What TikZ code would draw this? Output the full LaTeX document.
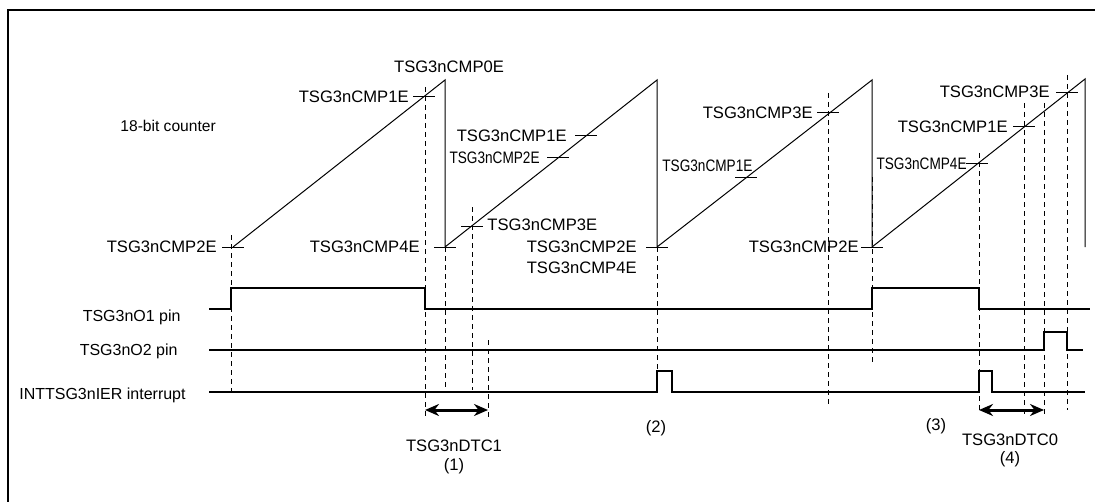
\documentclass[tikz,border=0pt]{standalone}
\usepackage{fontspec}
\setmainfont{Liberation Sans}
\usepackage{tikz}
\usetikzlibrary{arrows.meta,positioning,calc}

\newcommand{\narrow}[1]{\scalebox{0.82}[1]{#1}}

\begin{document}
\begin{tikzpicture}[x=0.5pt,y=-0.5pt,
    lbl/.style={font=\fontsize{8.3}{10}\selectfont, inner sep=0pt},
    ramp/.style={line width=0.5pt},
    sig/.style={line width=0.65pt},
    guide/.style={line width=0.5pt, dash pattern=on 2.5pt off 2pt},
    span/.style={line width=1.5pt, {Stealth[length=7pt,width=6pt]}-{Stealth[length=7pt,width=6pt]}}]
    \useasboundingbox (0,0) rectangle (1095,502);

    % frame
    \draw[line width=1pt] (7.5,502) -- (7.5,10) -- (1095,10);

    % 18-bit counter
    \node[lbl, font=\fontsize{7.8}{10}\selectfont, anchor=west] (cnt) at (120,126) {18-bit counter};
    \draw[ramp] (233,247) -- (445,80) -- (445,247) -- (657,80) -- (657,247)
        -- (872,80) -- (872,247) -- (1085,79) -- (1085,247);

    % compare ticks
    \foreach \x/\y in {233/247, 424/97, 445/247, 472/226, 558/158, 586/136,
                       657/247, 746/178, 828/113, 872/247, 977/164, 1024/127, 1067/93}
        \draw[ramp] (\x-11,\y) -- (\x+11,\y);

    % compare labels
    \node[lbl, anchor=east] (c2a) at (217,247) {TSG3nCMP2E};
    \node[lbl, anchor=east] (c1a) at (409,97) {TSG3nCMP1E};
    \node[lbl] (c0a) at (449,67) {TSG3nCMP0E};
    \node[lbl, anchor=east] (c4b) at (420,247) {TSG3nCMP4E};
    \node[lbl, anchor=west] (c3b) at (487,225) {TSG3nCMP3E};
    \node[lbl, anchor=east] (c1b) at (567,136) {TSG3nCMP1E};
    \node[lbl, anchor=east] (c2b) at (540,158) {\narrow{TSG3nCMP2E}};
    \node[lbl, anchor=east] (c2c) at (637,247) {TSG3nCMP2E};
    \node[lbl, anchor=east] (c4c) at (637,268) {TSG3nCMP4E};
    \node[lbl, anchor=west] (c1c) at (662,166) {\narrow{TSG3nCMP1E}};
    \node[lbl, anchor=east] (c3c) at (813,113) {TSG3nCMP3E};
    \node[lbl, anchor=east] (c2d) at (859,247) {TSG3nCMP2E};
    \node[lbl, anchor=east] (c4d) at (967,164) {\narrow{TSG3nCMP4E}};
    \node[lbl, anchor=east] (c1d) at (1008,127) {TSG3nCMP1E};
    \node[lbl, anchor=east] (c3d) at (1050,92) {TSG3nCMP3E};

    % dashed guides
    \foreach \x/\ya/\yb in {231/235/392, 425/87/418, 445/247/392, 472/207/390,
                            488/340/418, 657/247/392, 828/93/407, 872/177/363,
                            979/153/412, 1024/103/417, 1044/103/417, 1067/75/410}
        \draw[guide] (\x,\ya) -- (\x,\yb);

    % pins
    \node[lbl, font=\fontsize{8}{10}\selectfont, anchor=east] (o1) at (181,317) {TSG3nO1 pin};
    \node[lbl, font=\fontsize{8}{10}\selectfont, anchor=east] (o2) at (178,351) {TSG3nO2 pin};
    \node[lbl, font=\fontsize{8}{10}\selectfont, anchor=east] (irq) at (186,395) {INTTSG3nIER interrupt};
    \draw[sig] (209,309) -- (231,309) -- (231,288) -- (425,288) -- (425,309) -- (872,309)
        -- (872,288) -- (979,288) -- (979,309) -- (1090,309);
    \draw[sig] (209,350) -- (1044,350) -- (1044,332) -- (1067,332) -- (1067,350) -- (1083,350);
    \draw[sig] (209,392) -- (657,392) -- (657,371) -- (672,371) -- (672,392) -- (979,392)
        -- (979,371) -- (992,371) -- (992,392) -- (1085,392);

    % dead time
    \coordinate (d1l) at (425,410);
    \coordinate (d1r) at (488,410);
    \coordinate (d0l) at (979,410);
    \coordinate (d0r) at (1044,410);
    \draw[span] (d1l) -- (d1r);
    \draw[span] (d0l) -- (d0r);
    \node[lbl] (dtc1) at (454,446) {TSG3nDTC1};
    \node[lbl] (n1) at (454,466) {(1)};
    \node[lbl] (n2) at (656,428) {(2)};
    \node[lbl] (n3) at (936,426) {(3)};
    \node[lbl] (dtc0) at (1010,440) {TSG3nDTC0};
    \node[lbl] (n4) at (1010,459) {(4)};
\end{tikzpicture}
\end{document}
